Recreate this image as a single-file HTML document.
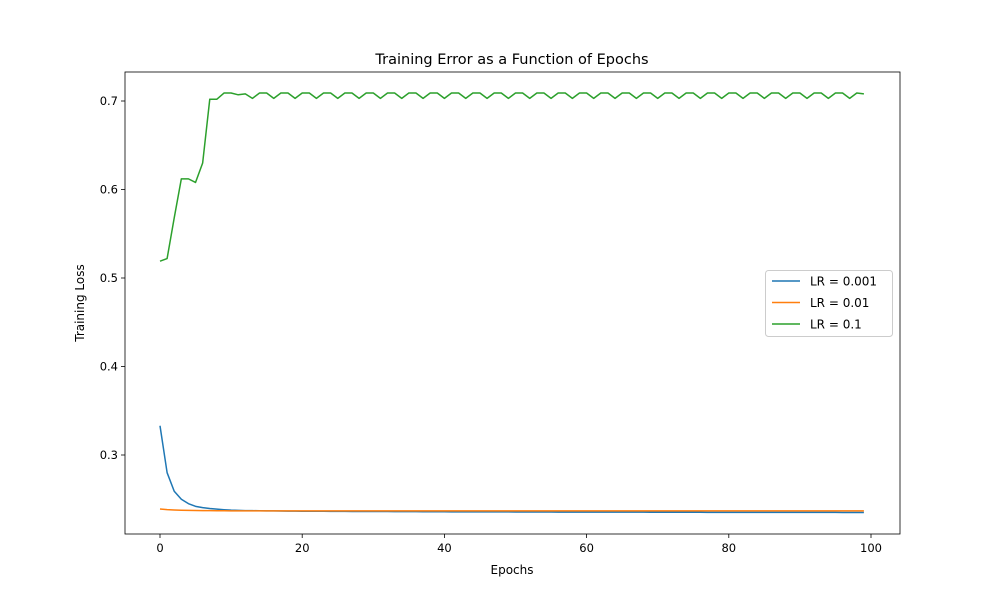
<!DOCTYPE html>
<html><head><meta charset="utf-8"><style>body{margin:0;background:#fff}svg{font-family:"DejaVu Sans","Liberation Sans",sans-serif}</style></head>
<body>
<svg id="c" width="1000" height="600" xmlns="http://www.w3.org/2000/svg"></svg>
<script>
const epochsCount = 100;
const xTicks = [0,20,40,60,80,100];
const yTicks = [0.3,0.4,0.5,0.6,0.7];
const lr001 = [0.333,0.280,0.259,0.250,0.245,0.242,0.2405,0.2395,0.2388,0.2382,
0.2377,0.2374,0.2372,0.2371,0.2370,0.2369,0.2368,0.2367,0.2366,0.2366,
0.2365,0.2365,0.2364,0.2364,0.2363,0.2363,0.2363,0.2362,0.2362,0.2362,
0.2361,0.2361,0.2361,0.2360,0.2360,0.2360,0.2360,0.2359,0.2359,0.2359,
0.2359,0.2358,0.2358,0.2358,0.2358,0.2357,0.2357,0.2357,0.2357,0.2357,
0.2356,0.2356,0.2356,0.2356,0.2356,0.2356,0.2355,0.2355,0.2355,0.2355,
0.2355,0.2355,0.2354,0.2354,0.2354,0.2354,0.2354,0.2354,0.2354,0.2353,
0.2353,0.2353,0.2353,0.2353,0.2353,0.2353,0.2353,0.2352,0.2352,0.2352,
0.2352,0.2352,0.2352,0.2352,0.2352,0.2352,0.2351,0.2351,0.2351,0.2351,
0.2351,0.2351,0.2351,0.2351,0.2351,0.2351,0.2350,0.2350,0.2350,0.2350];
const lr01 = [0.2390,0.2383,0.2379,0.2376,0.2374,0.2373,0.2372,0.2371,0.2370,0.2370,
0.2369,0.2369,0.2369,0.2369,0.2369,0.2369,0.2369,0.2369,0.2369,0.2369,
0.2369,0.2369,0.2369,0.2369,0.2369,0.2369,0.2369,0.2369,0.2369,0.2369,
0.2369,0.2369,0.2369,0.2369,0.2369,0.2369,0.2369,0.2369,0.2369,0.2369,
0.2369,0.2369,0.2369,0.2369,0.2369,0.2369,0.2369,0.2369,0.2369,0.2369,
0.2369,0.2369,0.2369,0.2369,0.2369,0.2369,0.2369,0.2369,0.2369,0.2369,
0.2369,0.2369,0.2369,0.2369,0.2369,0.2369,0.2369,0.2369,0.2369,0.2369,
0.2369,0.2369,0.2369,0.2369,0.2369,0.2369,0.2369,0.2369,0.2369,0.2369,
0.2369,0.2369,0.2369,0.2369,0.2369,0.2369,0.2369,0.2369,0.2369,0.2369,
0.2369,0.2369,0.2369,0.2369,0.2369,0.2369,0.2369,0.2369,0.2369,0.2369];
const lr1 = [0.519,0.522,0.568,0.612,0.612,0.608,0.630,0.702,0.702,0.709,
0.709,0.707,0.708,0.703,0.709,0.709,0.703,0.709,0.709,0.703,
0.709,0.709,0.703,0.709,0.709,0.703,0.709,0.709,0.703,0.709,
0.709,0.703,0.709,0.709,0.703,0.709,0.709,0.703,0.709,0.709,
0.703,0.709,0.709,0.703,0.709,0.709,0.703,0.709,0.709,0.703,
0.709,0.709,0.703,0.709,0.709,0.703,0.709,0.709,0.703,0.709,
0.709,0.703,0.709,0.709,0.703,0.709,0.709,0.703,0.709,0.709,
0.703,0.709,0.709,0.703,0.709,0.709,0.703,0.709,0.709,0.703,
0.709,0.709,0.703,0.709,0.709,0.703,0.709,0.709,0.703,0.709,
0.709,0.703,0.709,0.709,0.703,0.709,0.709,0.703,0.709,0.708];
const seriesNames = ["LR = 0.001","LR = 0.01","LR = 0.1"];
const colors = ["#1f77b4","#ff7f0e","#2ca02c"];

const NS="http://www.w3.org/2000/svg";
const svg=document.getElementById('c');
const L=125,R=900,T=72,B=534;
const xs=v=>160+(v/100)*711;
const ys=v=>101+(0.7-v)*885;
function mk(tag,attrs,parent){const e=document.createElementNS(NS,tag);for(const k in attrs)e.setAttribute(k,attrs[k]);(parent||svg).appendChild(e);return e;}

const title=mk('text',{x:512,y:64,'text-anchor':'middle','font-size':14.5});
title.textContent='Training Error as a Function of Epochs';



xTicks.forEach(t=>{
  const g=mk('g',{});
  
  
  mk('line',{x1:xs(t),x2:xs(t),y1:B,y2:B+4,stroke:'#000','stroke-width':0.8},g);
  const tx=mk('text',{x:xs(t),y:B+18,'text-anchor':'middle','font-size':11.5},g);tx.textContent=t;
});
yTicks.forEach(t=>{
  const g=mk('g',{});
  
  
  mk('line',{x1:L-4,x2:L,y1:ys(t),y2:ys(t),stroke:'#000','stroke-width':0.8},g);
  const tx=mk('text',{x:L-7,y:ys(t)+4,'text-anchor':'end','font-size':11.5},g);tx.textContent=t.toFixed(1);
});
const xl=mk('text',{x:512,y:574,'text-anchor':'middle','font-size':12});xl.textContent='Epochs';


const yl=mk('text',{x:84,y:303,'text-anchor':'middle','font-size':12,transform:'rotate(-90 84 303)'});yl.textContent='Training Loss';



[lr001,lr01,lr1].forEach((arr,i)=>{
  const p=mk('polyline',{points:arr.map((v,j)=>xs(j)+','+ys(v)).join(' '),fill:'none',stroke:colors[i],'stroke-width':1.5,'stroke-linejoin':'round'});
  
  
});
const frame=mk('rect',{x:L,y:T,width:R-L,height:B-T,fill:'none',stroke:'#000','stroke-width':0.8});



const lg=mk('g',{});


mk('rect',{x:765.5,y:270.5,width:127,height:66,rx:3,fill:'#fff',stroke:'#ccc'},lg);
seriesNames.forEach((n,i)=>{
  const y=281+i*21.5;
  const g=mk('g',{},lg);
  
  
  mk('line',{x1:772,x2:800,y1:y,y2:y,stroke:colors[i],'stroke-width':1.5},g);
  const t=mk('text',{x:810,y:y+4.5,'font-size':12},g);t.textContent=n;
});
</script>
</body></html>
